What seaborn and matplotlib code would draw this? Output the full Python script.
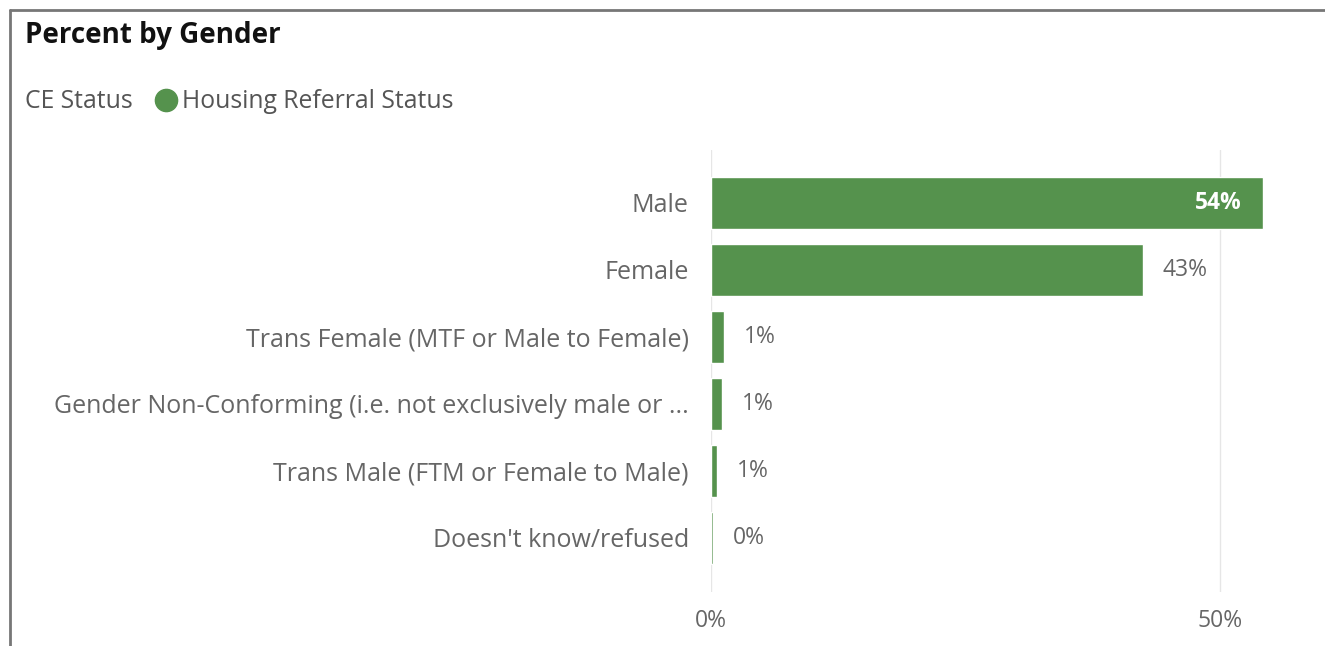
import matplotlib
matplotlib.use("Agg")
import matplotlib.pyplot as plt
import seaborn as sns
import pandas as pd

genders = [
    "Male",
    "Female",
    "Trans Female (MTF or Male to Female)",
    "Gender Non-Conforming (i.e. not exclusively male or ...",
    "Trans Male (FTM or Female to Male)",
    "Doesn't know/refused",
]
percents = [54.2, 42.5, 1.3, 1.1, 0.6, 0.2]
labels = ["54%", "43%", "1%", "1%", "1%", "0%"]
x_ticks = [0, 50]
x_tick_labels = ["0%", "50%"]

green = "#55924d"
gray = "#666666"

df = pd.DataFrame({"Gender": genders, "Percent": percents})

sns.set_style("white")
plt.rcParams["font.family"] = ["Open Sans", "DejaVu Sans"]

W, H = 1325, 646
fig = plt.figure(figsize=(W / 100, H / 100), dpi=100)
ax = fig.add_axes([711 / W, 1 - 592 / H, 580 / W, (592 - 150) / H])

sns.barplot(data=df, x="Percent", y="Gender", color=green, width=0.78,
            saturation=1, ax=ax, orient="h")

ax.set_xlim(0, 57)
ax.set_ylim(5.81, -0.79)
ax.set_xticks(x_ticks)
ax.set_xticklabels(x_tick_labels, color=gray, fontsize=16.5)
ax.tick_params(axis="y", colors=gray, labelsize=18, length=0, pad=16)
ax.tick_params(axis="x", length=0, pad=12)
for t in ax.get_yticklabels():
    t.set_color(gray)
ax.set_xlabel("")
ax.set_ylabel("")
ax.grid(axis="x", color="#e6e6e6", linewidth=1)
ax.grid(axis="y", visible=False)
ax.set_axisbelow(True)
sns.despine(ax=ax, left=True, bottom=True)

# data labels
for i, (v, lab) in enumerate(zip(percents, labels)):
    if v > 50:
        ax.annotate(lab, (v, i), xytext=(-15, 0), textcoords="offset points",
                    ha="right", va="center", color="white", fontsize=16.5,
                    fontweight="bold")
    else:
        ax.annotate(lab, (v, i), xytext=(14, 0), textcoords="offset points",
                    ha="left", va="center", color=gray, fontsize=16.5)

# title and legend
fig.text(25 / W, 1 - 35 / H, "Percent by Gender", fontsize=20,
         fontweight="bold", color="#111111", va="center")
fig.text(25 / W, 1 - 101 / H, "CE Status", fontsize=17.8, color="#555555",
         va="center")
fig.add_artist(plt.Line2D([166 / W], [1 - 100 / H], marker="o", markersize=16,
                          color=green, linestyle="none",
                          transform=fig.transFigure))
fig.text(182 / W, 1 - 101 / H, "Housing Referral Status", fontsize=17.8,
         color="#555555", va="center")

# frame
fig.add_artist(plt.Line2D([10 / W, 10 / W], [0, 1 - 10 / H],
                          transform=fig.transFigure, color="#777777", lw=2))
fig.add_artist(plt.Line2D([10 / W, 1], [1 - 10 / H, 1 - 10 / H],
                          transform=fig.transFigure, color="#777777", lw=2))

fig.savefig("out.png", dpi=100)
